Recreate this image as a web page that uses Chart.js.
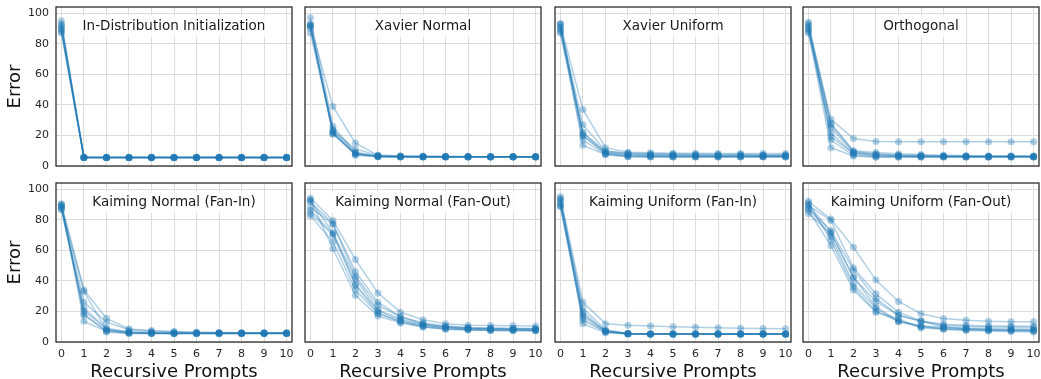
<!DOCTYPE html>
<html>
<head>
<meta charset="utf-8">
<script src="https://cdn.jsdelivr.net/npm/chart.js@4.4.1/dist/chart.umd.min.js"></script>
<style>
    html, body { margin: 0; padding: 0; background: #fff; overflow: hidden; width: 1041px; height: 379px; }
    canvas { position: absolute; }
</style>
</head>
<body>
<script>
// x axis: recursive prompt index, y axis: error
const steps = [0, 1, 2, 3, 4, 5, 6, 7, 8, 9, 10];
const yTicks = [0, 20, 40, 60, 80, 100];
const panelTitles = [
    'In-Distribution Initialization', 'Xavier Normal', 'Xavier Uniform', 'Orthogonal',
    'Kaiming Normal (Fan-In)', 'Kaiming Normal (Fan-Out)', 'Kaiming Uniform (Fan-In)', 'Kaiming Uniform (Fan-Out)'
];

// one row per run
const inDistribution = [
    [95, 5.8, 5.7, 5.7, 5.7, 5.7, 5.7, 5.7, 5.7, 5.7, 5.7],
    [93, 5.6, 5.6, 5.6, 5.6, 5.6, 5.6, 5.6, 5.6, 5.6, 5.6],
    [91, 5.5, 5.5, 5.5, 5.5, 5.5, 5.5, 5.5, 5.5, 5.5, 5.5],
    [89, 5.4, 5.4, 5.4, 5.4, 5.4, 5.4, 5.4, 5.4, 5.4, 5.4],
    [88, 5.6, 5.6, 5.6, 5.6, 5.6, 5.6, 5.6, 5.6, 5.6, 5.6],
    [87, 5.5, 5.5, 5.5, 5.5, 5.5, 5.5, 5.5, 5.5, 5.5, 5.5],
    [92, 5.5, 5.5, 5.5, 5.5, 5.5, 5.5, 5.5, 5.5, 5.5, 5.5],
    [90, 5.7, 5.6, 5.6, 5.6, 5.6, 5.6, 5.6, 5.6, 5.6, 5.6]
];
const xavierNormal = [
    [92, 39, 15, 7.0, 6.5, 6.3, 6.2, 6.1, 6.1, 6.0, 6.0],
    [97, 26, 9, 6.6, 6.2, 6.1, 6.0, 6.0, 6.0, 6.0, 6.0],
    [87, 22, 7, 6.0, 5.9, 5.9, 5.9, 5.9, 5.9, 5.9, 5.9],
    [92, 21, 8, 6.4, 6.1, 6.0, 6.0, 6.0, 6.0, 6.0, 6.0],
    [91, 24, 8.5, 6.2, 6.0, 6.0, 6.0, 6.0, 6.0, 6.0, 6.0],
    [93, 21, 7.5, 6.0, 5.9, 5.9, 5.9, 5.9, 5.9, 5.9, 5.9],
    [90, 23, 11, 7.0, 6.5, 6.3, 6.2, 6.2, 6.1, 6.1, 6.1],
    [92, 22, 8, 6.3, 6.0, 6.0, 6.0, 6.0, 6.0, 6.0, 6.0]
];
const xavierUniform = [
    [93, 37, 12, 9.0, 8.6, 8.4, 8.3, 8.2, 8.2, 8.1, 8.1],
    [91, 27, 10, 8.0, 7.6, 7.4, 7.3, 7.2, 7.2, 7.1, 7.1],
    [89, 22, 9, 7.0, 6.8, 6.7, 6.6, 6.5, 6.5, 6.5, 6.5],
    [92, 20, 8, 6.5, 6.2, 6.1, 6.0, 6.0, 6.0, 6.0, 6.0],
    [87, 17, 7.6, 6.2, 6.0, 6.0, 6.0, 6.0, 6.0, 6.0, 6.0],
    [90, 13.5, 7.5, 6.0, 5.9, 5.9, 5.9, 5.9, 5.9, 5.9, 5.9],
    [93, 19.5, 8.5, 7.5, 7.0, 6.8, 6.7, 6.6, 6.6, 6.6, 6.6],
    [88, 21.5, 9.5, 8.5, 8.0, 7.8, 7.6, 7.5, 7.5, 7.4, 7.4]
];
const orthogonal = [
    [91, 30.5, 18, 16, 15.8, 15.8, 15.8, 15.8, 15.8, 15.8, 15.9],
    [94, 28, 10, 8.8, 8.0, 7.5, 7.0, 6.8, 6.6, 6.5, 6.5],
    [89, 25, 9, 7.5, 7.0, 6.8, 6.6, 6.4, 6.3, 6.3, 6.2],
    [87, 21.5, 8, 6.5, 6.2, 6.0, 6.0, 6.0, 6.0, 6.0, 6.0],
    [92, 17, 7, 6.0, 6.0, 6.0, 6.0, 6.0, 6.0, 6.0, 6.0],
    [88, 12, 6.5, 5.8, 5.8, 5.8, 5.8, 5.8, 5.8, 5.8, 5.8],
    [90, 27, 9.5, 7.8, 7.0, 6.7, 6.5, 6.4, 6.3, 6.3, 6.3],
    [93, 19, 8.5, 7.0, 6.5, 6.3, 6.2, 6.1, 6.1, 6.1, 6.1]
];
const kaimingNormalFanIn = [
    [90.5, 34, 15.5, 8.5, 7.5, 6.8, 6.4, 6.2, 6.0, 6.0, 6.0],
    [89, 26, 13, 8.0, 7.0, 6.5, 6.2, 6.0, 6.0, 6.0, 6.0],
    [87, 20.5, 8.3, 6.5, 6.0, 5.8, 5.8, 5.8, 5.8, 5.8, 5.8],
    [88, 17.5, 7.5, 6.0, 5.7, 5.6, 5.6, 5.6, 5.6, 5.6, 5.6],
    [90, 13.5, 7, 5.8, 5.6, 5.6, 5.6, 5.6, 5.6, 5.6, 5.6],
    [86.5, 22, 9, 6.5, 6.0, 5.8, 5.8, 5.8, 5.8, 5.8, 5.8],
    [89.5, 18.5, 6.5, 5.5, 5.5, 5.5, 5.5, 5.5, 5.5, 5.5, 5.5],
    [88.5, 33, 8, 6.0, 5.7, 5.7, 5.7, 5.7, 5.7, 5.7, 5.7]
];
const kaimingNormalFanOut = [
    [94, 79.5, 54, 32, 19.5, 14.5, 12, 11, 10.8, 10.6, 10.5],
    [91.5, 77.5, 46, 26, 16.5, 12, 10, 9.2, 9.0, 8.8, 8.8],
    [86, 71, 41.5, 21, 15, 11.5, 9.8, 9.0, 8.6, 8.4, 8.3],
    [84, 70, 37, 19, 13, 10, 8.5, 8.0, 7.6, 7.5, 7.4],
    [82.5, 65.5, 34, 18.5, 13.5, 10.5, 9.0, 8.3, 8.0, 7.8, 7.7],
    [93, 61, 30.5, 17, 12.5, 9.8, 8.3, 7.8, 7.5, 7.4, 7.3],
    [92.5, 71.5, 38, 20.5, 14, 11, 9.5, 8.7, 8.3, 8.1, 8.0],
    [88, 77, 43, 24, 16.5, 12.5, 10.5, 9.5, 9.0, 8.8, 8.7]
];
const kaimingUniformFanIn = [
    [95, 26, 12, 11, 10.5, 10, 9.6, 9.3, 9.0, 8.8, 8.7],
    [92.5, 19.5, 7, 5.5, 5.3, 5.2, 5.2, 5.2, 5.2, 5.2, 5.2],
    [88.5, 15.3, 6.5, 5.4, 5.2, 5.2, 5.2, 5.2, 5.2, 5.2, 5.2],
    [94, 12, 6, 5.2, 5.1, 5.1, 5.1, 5.1, 5.1, 5.1, 5.1],
    [90, 17, 7.5, 5.5, 5.3, 5.3, 5.3, 5.3, 5.3, 5.3, 5.3],
    [93, 22, 8, 5.6, 5.3, 5.3, 5.3, 5.3, 5.3, 5.3, 5.3],
    [89, 14, 6.8, 5.3, 5.2, 5.2, 5.2, 5.2, 5.2, 5.2, 5.2],
    [91, 18, 7, 5.4, 5.2, 5.2, 5.2, 5.2, 5.2, 5.2, 5.2]
];
const kaimingUniformFanOut = [
    [92, 80.5, 62, 40.5, 26.5, 18.5, 15.3, 14.2, 13.5, 13.3, 13.2],
    [89.5, 79.5, 48.5, 31.5, 19.5, 13.8, 11.6, 10.9, 10.5, 10.4, 10.3],
    [87, 73, 47, 28.5, 17.5, 13.5, 11, 10.2, 9.8, 9.6, 9.5],
    [84, 71, 42.5, 23, 13.8, 10.5, 9.8, 9.0, 8.7, 8.5, 8.4],
    [91, 66.5, 36, 20, 13.5, 10.5, 8.3, 7.6, 7.5, 7.3, 7.2],
    [86, 63, 34, 19.5, 15, 9.2, 8.5, 7.8, 7.2, 6.8, 6.6],
    [90, 72, 42, 26.6, 17.5, 13.8, 9.8, 8.7, 8.2, 7.8, 7.7],
    [88, 69, 38, 22, 13.2, 9.8, 9.0, 8.5, 8.0, 7.8, 7.6]
];

const panelRuns = [
    inDistribution, xavierNormal, xavierUniform, orthogonal,
    kaimingNormalFanIn, kaimingNormalFanOut, kaimingUniformFanIn, kaimingUniformFanOut
];

// layout of the 2x4 grid (plot area corners in page pixels)
const colLeft = [56, 305, 555, 803];
const rowTop = [7, 183];
const plotW = 236;
const plotH = 159;
const runColor = 'rgba(31, 119, 180, 0.35)';
const fontFamily = '"DejaVu Sans", sans-serif';

Chart.defaults.font.family = fontFamily;

// frame around the plot area and the in-plot title box
const panelDecor = {
    id: 'panelDecor',
    afterDraw(chart, args, opts) {
        const { ctx, chartArea: a } = chart;
        ctx.save();
        ctx.font = '13.5px ' + fontFamily;
        const w = ctx.measureText(opts.text).width;
        const cx = (a.left + a.right) / 2;
        const cy = a.top + 19;
        ctx.fillStyle = 'rgba(255, 255, 255, 0.85)';
        ctx.fillRect(cx - w / 2 - 6, cy - 11, w + 12, 22);
        ctx.fillStyle = '#1a1a1a';
        ctx.textAlign = 'center';
        ctx.textBaseline = 'middle';
        ctx.fillText(opts.text, cx, cy);

        ctx.strokeStyle = '#262626';
        ctx.lineWidth = 1.25;
        ctx.strokeRect(a.left, a.top, a.right - a.left, a.bottom - a.top);
        ctx.restore();
    }
};

// keep the plot area where we put it: no extra room for overflowing labels
function noLabelPadding(scale) {
    scale.paddingTop = 0;
    scale.paddingBottom = 0;
    scale.paddingLeft = 0;
    scale.paddingRight = 0;
}

panelRuns.forEach((runs, i) => {
    const row = Math.floor(i / 4);
    const col = i % 4;
    const padL = col === 0 ? 56 : 12;
    const padR = 12;
    const padT = row === 0 ? 7 : 10;
    const padB = row === 1 ? 39 : 8;

    const canvas = document.createElement('canvas');
    const width = plotW + padL + padR;
    const height = plotH + padT + padB;
    canvas.width = width;
    canvas.height = height;
    canvas.style.width = width + 'px';
    canvas.style.height = height + 'px';
    canvas.style.left = (colLeft[col] - padL) + 'px';
    canvas.style.top = (rowTop[row] - padT) + 'px';
    document.body.appendChild(canvas);

    new Chart(canvas.getContext('2d'), {
        type: 'line',
        data: {
            labels: steps,
            datasets: runs.map(run => ({
                data: run,
                borderColor: runColor,
                backgroundColor: runColor,
                borderWidth: 1.5,
                pointRadius: 3.5,
                pointBorderWidth: 0,
                pointBackgroundColor: runColor,
                tension: 0,
                fill: false
            }))
        },
        options: {
            responsive: false,
            animation: false,
            events: [],
            layout: { padding: { left: 0, right: padR, top: padT, bottom: 0 } },
            plugins: {
                legend: { display: false },
                tooltip: { enabled: false },
                panelDecor: { text: panelTitles[i] }
            },
            scales: {
                x: {
                    type: 'linear',
                    min: -0.24,
                    max: 10.24,
                    afterBuildTicks: scale => { scale.ticks = steps.map(v => ({ value: v })); },
                    afterFit: scale => { scale.height = padB; noLabelPadding(scale); },
                    grid: { color: '#dcdcdc', lineWidth: 1, drawTicks: false },
                    border: { display: false },
                    ticks: {
                        display: row === 1,
                        color: '#262626',
                        font: { size: 11 },
                        padding: 6,
                        maxRotation: 0,
                        autoSkip: false
                    },
                    title: {
                        display: row === 1,
                        text: 'Recursive Prompts',
                        color: '#111',
                        font: { size: 18, lineHeight: 1 },
                        padding: 0
                    }
                },
                y: {
                    min: 0,
                    max: 104,
                    afterBuildTicks: scale => { scale.ticks = yTicks.map(v => ({ value: v })); },
                    afterFit: scale => { scale.width = padL; noLabelPadding(scale); },
                    grid: { color: '#dcdcdc', lineWidth: 1, drawTicks: false },
                    border: { display: false },
                    ticks: {
                        display: col === 0,
                        color: '#262626',
                        font: { size: 11 },
                        padding: 7
                    },
                    title: {
                        display: col === 0,
                        text: 'Error',
                        color: '#111',
                        font: { size: 18, lineHeight: 1 },
                        padding: { top: 6.5, bottom: 0 }
                    }
                }
            }
        },
        plugins: [panelDecor]
    });
});
</script>
</body>
</html>
